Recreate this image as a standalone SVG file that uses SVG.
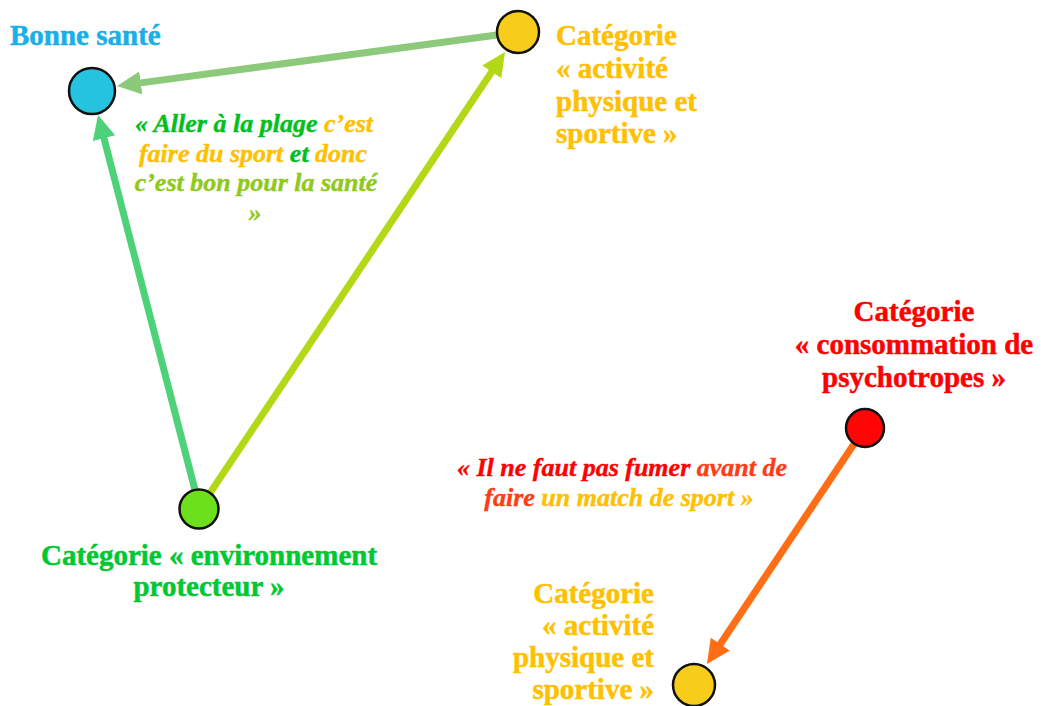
<svg xmlns="http://www.w3.org/2000/svg" width="1041" height="706" viewBox="0 0 1041 706">
<style>
.lbl{font-family:"Liberation Serif","Times New Roman",serif;font-weight:bold;font-size:29px;stroke-width:0.5;stroke-linejoin:round}
.q{font-family:"Liberation Serif","Times New Roman",serif;font-weight:bold;font-style:italic;font-size:26px;stroke-width:0.4;stroke-linejoin:round}
.node{stroke:#111;stroke-width:2.5}
.edge{fill:none;stroke-width:7;stroke-linecap:butt}
</style>
<defs>
<marker id="aTop" markerUnits="userSpaceOnUse" markerWidth="26" markerHeight="24" refX="2" refY="11.5" orient="auto"><path d="M0,0 L24,11.5 L0,23 z" fill="#8CC97A"/></marker>
<marker id="aLeft" markerUnits="userSpaceOnUse" markerWidth="26" markerHeight="24" refX="2" refY="11.5" orient="auto"><path d="M0,0 L24,11.5 L0,23 z" fill="#4DD27A"/></marker>
<marker id="aRight" markerUnits="userSpaceOnUse" markerWidth="26" markerHeight="24" refX="2" refY="11.5" orient="auto"><path d="M0,0 L24,11.5 L0,23 z" fill="#B2D816"/></marker>
<marker id="aOrange" markerUnits="userSpaceOnUse" markerWidth="26" markerHeight="24" refX="2" refY="11.5" orient="auto"><path d="M0,0 L24,11.5 L0,23 z" fill="#FF6D14"/></marker>
</defs>
<rect width="1041" height="706" fill="#fff"/>
<g id="connectors">
<line class="edge" x1="497" y1="35" x2="138.8" y2="83.1" stroke="#8CC97A" marker-end="url(#aTop)"/>
<line class="edge" x1="195" y1="490" x2="103.5" y2="136.3" stroke="#4DD27A" marker-end="url(#aLeft)"/>
<line class="edge" x1="210" y1="493" x2="492.8" y2="70.3" stroke="#B2D816" marker-end="url(#aRight)"/>
<line class="edge" x1="854" y1="444" x2="719.2" y2="645.7" stroke="#FF6D14" marker-end="url(#aOrange)"/>
</g>
<g id="node-bonne-sante">
<circle class="node" cx="92" cy="91" r="23" fill="#26C3E0"/>
<text class="lbl" x="10" y="45" fill="#1AAFE6" stroke="#1AAFE6">Bonne santé</text>
</g>
<g id="node-activite-top">
<circle class="node" cx="518" cy="32" r="21" fill="#F8CC1B"/>
<text class="lbl" fill="#FFC000" stroke="#FFC000"><tspan x="556" y="45">Catégorie</tspan><tspan x="556" y="78">« activité</tspan><tspan x="556" y="111">physique et</tspan><tspan x="556" y="143">sportive »</tspan></text>
</g>
<g id="node-environnement">
<circle class="node" cx="199" cy="509" r="19.5" fill="#6CE01A"/>
<text class="lbl" fill="#00C832" stroke="#00C832" text-anchor="middle"><tspan x="209" y="565">Catégorie « environnement</tspan><tspan x="209" y="596">protecteur »</tspan></text>
</g>
<g id="node-psychotropes">
<circle class="node" cx="865" cy="428" r="19" fill="#FF0505"/>
<text class="lbl" fill="#FF0000" stroke="#FF0000" text-anchor="middle"><tspan x="914" y="321">Catégorie</tspan><tspan x="914" y="354">« consommation de</tspan><tspan x="914" y="387">psychotropes »</tspan></text>
</g>
<g id="node-activite-bottom">
<circle class="node" cx="694" cy="685" r="21" fill="#F8CC1B"/>
<text class="lbl" fill="#FFC000" stroke="#FFC000" text-anchor="end"><tspan x="654" y="603">Catégorie</tspan><tspan x="654" y="635">« activité</tspan><tspan x="654" y="667">physique et</tspan><tspan x="654" y="699">sportive »</tspan></text>
</g>
<g id="quote-plage">
<text class="q" text-anchor="middle" x="254" y="132"><tspan fill="#00C020" stroke="#00C020">« Aller à la plage </tspan><tspan fill="#FFC000" stroke="#FFC000">c’est</tspan></text>
<text class="q" text-anchor="middle" x="253" y="162"><tspan fill="#FFC000" stroke="#FFC000">faire du sport </tspan><tspan fill="#00C020" stroke="#00C020">et </tspan><tspan fill="#FFC000" stroke="#FFC000">donc</tspan></text>
<text class="q" text-anchor="middle" x="256" y="191" fill="#8FC91A" stroke="#8FC91A">c’est bon pour la santé</text>
<text class="q" text-anchor="middle" x="255" y="221" fill="#8FC91A" stroke="#8FC91A">»</text>
</g>
<g id="quote-fumer">
<text class="q" text-anchor="middle" x="622" y="476"><tspan fill="#FF0000" stroke="#FF0000">« Il ne faut pas fumer </tspan><tspan fill="#FF3C14" stroke="#FF3C14">avant de</tspan></text>
<text class="q" text-anchor="middle" x="619" y="506"><tspan fill="#FF3C14" stroke="#FF3C14">faire </tspan><tspan fill="#FFC000" stroke="#FFC000">un match de sport »</tspan></text>
</g>
</svg>
